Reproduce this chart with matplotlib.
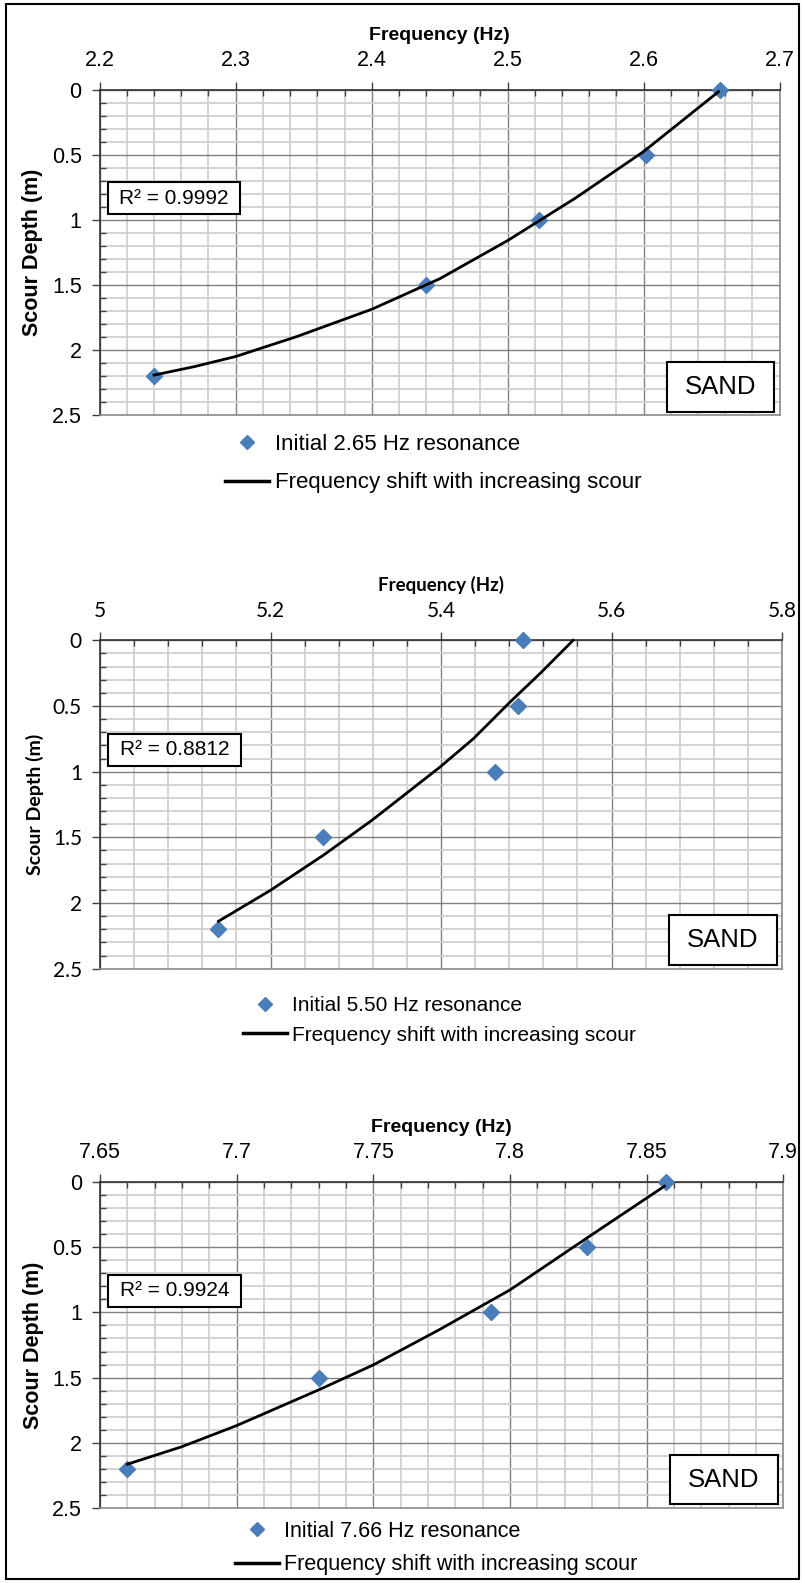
import matplotlib
matplotlib.use('Agg')
import matplotlib.pyplot as plt
from matplotlib.ticker import MultipleLocator, FuncFormatter
from matplotlib.lines import Line2D
from matplotlib.patches import Rectangle

plt.rcParams['font.family'] = ['Liberation Sans', 'DejaVu Sans']

# scour depths of the measured points (m)
depth = [0, 0.5, 1.0, 1.5, 2.2]

# measured resonance frequency at each depth (Hz)
freq_1 = [2.656, 2.602, 2.523, 2.440, 2.240]
freq_2 = [5.496, 5.490, 5.463, 5.262, 5.139]
freq_3 = [7.857, 7.828, 7.793, 7.730, 7.660]

# fitted "frequency shift" curves
fit1_freq = [2.240, 2.270, 2.300, 2.344, 2.400, 2.450, 2.500, 2.550, 2.600, 2.655]
fit1_depth = [2.193, 2.127, 2.050, 1.900, 1.687, 1.452, 1.158, 0.830, 0.473, 0.013]
fit2_freq = [5.139, 5.200, 5.262, 5.319, 5.399, 5.438, 5.481, 5.516, 5.555]
fit2_depth = [2.139, 1.903, 1.636, 1.370, 0.964, 0.749, 0.470, 0.254, 0.0]
fit3_freq = [7.660, 7.680, 7.700, 7.730, 7.750, 7.774, 7.800, 7.828, 7.8565]
fit3_depth = [2.166, 2.031, 1.869, 1.595, 1.403, 1.134, 0.827, 0.430, 0.030]

r2_labels = ['R\u00b2 = 0.9992', 'R\u00b2 = 0.8812', 'R\u00b2 = 0.9924']
legend_labels = ['Initial 2.65 Hz resonance', 'Initial 5.50 Hz resonance',
                 'Initial 7.66 Hz resonance']
line_label = 'Frequency shift with increasing scour'

xlims = [(2.2, 2.7), (5.0, 5.8), (7.65, 7.9)]
x_major = [0.1, 0.2, 0.05]
x_minor = [0.02, 0.04, 0.01]

W, H = 803, 1583
fig = plt.figure(figsize=(W / 100, H / 100), dpi=100)

# axes boxes in pixels: left, right, top, bottom
boxes = [(99.7, 779.7, 90, 415), (100, 782, 640.3, 968.7), (100, 783.3, 1182.3, 1507.7)]
# legend: handle start x, top y, fontsize, row spacing
leg_pos = [(225, 434, 16, 0.78), (243, 996, 15, 0.51), (235, 1521, 15.5, 0.56)]

panels = [(freq_1, fit1_freq, fit1_depth), (freq_2, fit2_freq, fit2_depth),
          (freq_3, fit3_freq, fit3_depth)]

blue = '#4A7EBB'

for i, (freq, ff, fd) in enumerate(panels):
    l, r, t, b = boxes[i]
    ax = fig.add_axes([l / W, 1 - b / H, (r - l) / W, (b - t) / H])

    # panel 2 uses a Calibri-like look in the original
    tfont = ['Lato', 'DejaVu Sans'] if i == 1 else ['Liberation Sans', 'DejaVu Sans']
    tick_fs = 15 if i == 1 else 15.5
    xlab_fs = 13.5 if i == 1 else 14
    ylab_fs = 14 if i == 1 else 15.5

    ln, = ax.plot(ff, fd, color='black', lw=2, zorder=4, clip_on=False,
                  solid_joinstyle='round')
    mk, = ax.plot(freq, depth, linestyle='none', marker='D', ms=8.5,
                  color=blue, zorder=3, clip_on=False)

    ax.set_xlim(*xlims[i])
    ax.set_ylim(2.5, 0)
    ax.xaxis.set_major_locator(MultipleLocator(x_major[i]))
    ax.xaxis.set_minor_locator(MultipleLocator(x_minor[i]))
    ax.yaxis.set_major_locator(MultipleLocator(0.5))
    ax.yaxis.set_minor_locator(MultipleLocator(0.1))
    fmt = FuncFormatter(lambda v, p: ('%.2f' % v).rstrip('0').rstrip('.'))
    ax.xaxis.set_major_formatter(fmt)
    ax.yaxis.set_major_formatter(fmt)

    ax.xaxis.tick_top()
    ax.xaxis.set_label_position('top')
    ax.tick_params(which='major', direction='out', length=6, width=1, color='#404040',
                   labelsize=tick_fs, pad=7)
    ax.tick_params(which='minor', direction='in', length=4, width=1, color='#404040')
    ax.tick_params(axis='x', which='both', top=True, bottom=False)
    ax.tick_params(axis='x', which='major', pad=8)
    for lab in ax.get_xticklabels() + ax.get_yticklabels():
        lab.set_family(tfont)

    ax.grid(which='major', color='#808080', lw=1)
    ax.grid(which='minor', color='#d0d0d0', lw=1.3)
    ax.set_axisbelow(True)

    ax.spines['top'].set_color('#303030')
    ax.spines['left'].set_color('#303030')
    ax.spines['right'].set_color('#8a8a8a')
    ax.spines['bottom'].set_color('#8a8a8a')
    for s in ax.spines.values():
        s.set_linewidth(1.2)

    ax.set_xlabel('Frequency (Hz)', fontsize=xlab_fs, fontweight='bold',
                  family=tfont, labelpad=7)
    ax.set_ylabel('Scour Depth (m)', fontsize=ylab_fs, fontweight='bold',
                  family=tfont, labelpad=6)

    # R squared box
    ax.add_patch(Rectangle((0.012, 0.617), 0.195, 0.099, transform=ax.transAxes,
                           facecolor='white', edgecolor='black', lw=1.5, zorder=6))
    ax.text(0.012 + 0.195 / 2, 0.617 + 0.099 / 2, r2_labels[i], transform=ax.transAxes,
            ha='center', va='center', fontsize=15, zorder=7)
    # SAND box
    ax.add_patch(Rectangle((0.834, 0.010), 0.158, 0.152, transform=ax.transAxes,
                           facecolor='white', edgecolor='black', lw=1.5, zorder=6))
    ax.text(0.834 + 0.158 / 2, 0.010 + 0.152 / 2, 'SAND', transform=ax.transAxes,
            ha='center', va='center', fontsize=18.5, zorder=7)

    lx, ly, lfs, lsp = leg_pos[i]
    h_mk = Line2D([], [], linestyle='none', marker='D', ms=7, color=blue)
    h_ln = Line2D([], [], color='black', lw=2.5)
    fig.legend([h_mk, h_ln], [legend_labels[i], line_label], loc='upper left',
               bbox_to_anchor=(lx / W, 1 - ly / H), frameon=False, fontsize=lfs,
               borderpad=0, borderaxespad=0, handlelength=44 / (lfs * 1.389),
               handletextpad=0.25, labelspacing=lsp, numpoints=1)

# outer frame
fig.add_artist(Rectangle((6 / W, 1 - 1579 / H), 793 / W, 1575 / H, transform=fig.transFigure,
                         fill=False, edgecolor='black', lw=1.5))

fig.savefig('out.png', dpi=100)
